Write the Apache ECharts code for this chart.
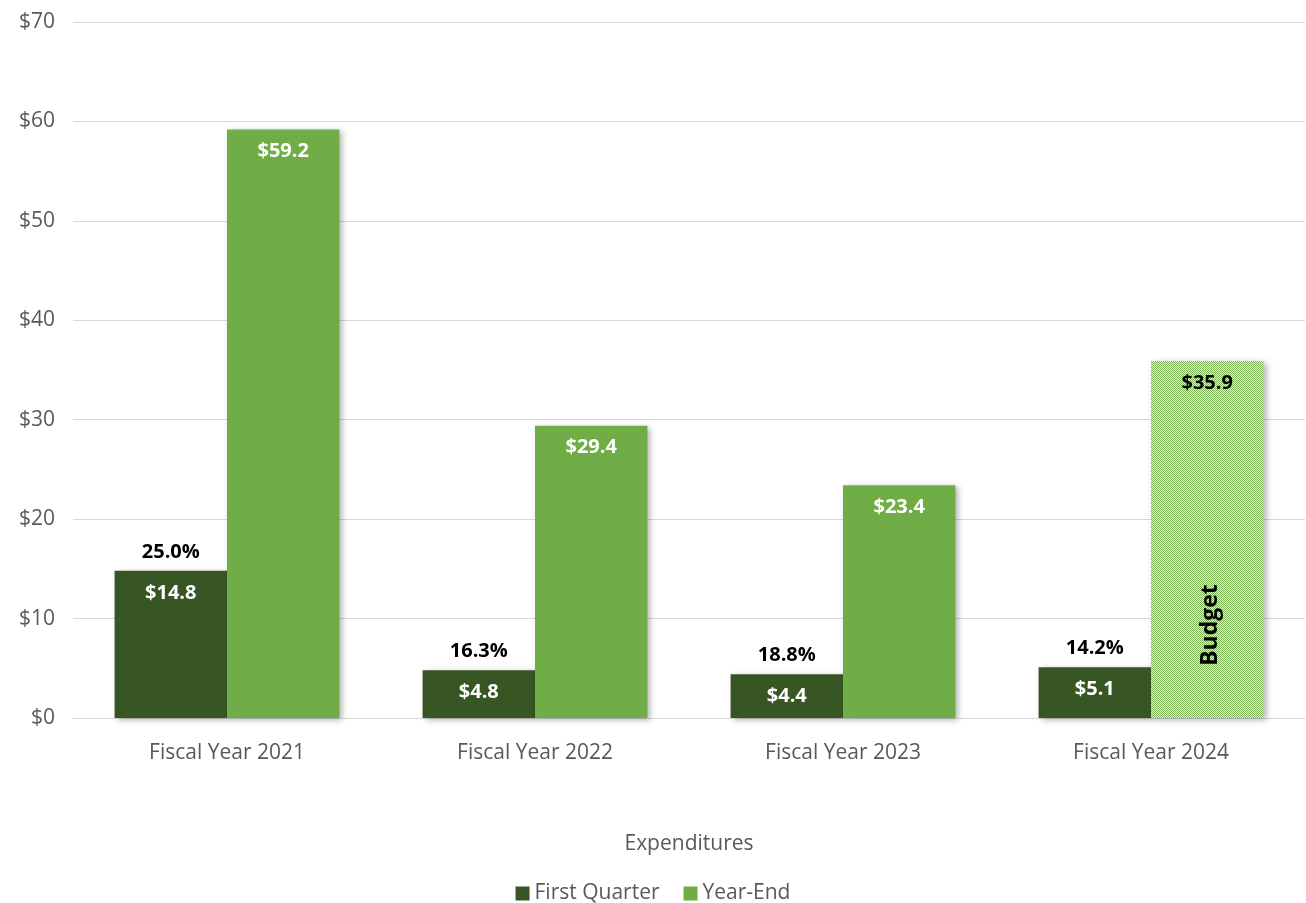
<!DOCTYPE html>
<html>
<head>
<meta charset="utf-8">
<script src="https://cdn.jsdelivr.net/npm/echarts@6/dist/echarts.min.js"></script>
<style>
  html, body { margin: 0; padding: 0; background: #fff; }
  #chart { width: 1306px; height: 903px; }
</style>
</head>
<body>
<div id="chart"></div>
<script>
var categories = ['Fiscal Year 2021', 'Fiscal Year 2022', 'Fiscal Year 2023', 'Fiscal Year 2024']
var firstQuarter = [14.8, 4.8, 4.4, 5.1]
var yearEnd = [59.2, 29.4, 23.4, 35.9]
var percentSpent = ['25.0%', '16.3%', '18.8%', '14.2%']
var budgetIndex = 3
var yTicks = [0, 10, 20, 30, 40, 50, 60, 70]

var FONT = '"Open Sans", "Noto Sans", sans-serif'
var DARK = '#375623'
var LIGHT = '#70ad47'

// dotted fill for the budget bar
function makePattern() {
  var c = document.createElement('canvas')
  c.width = 2
  c.height = 2
  var ctx = c.getContext('2d')
  ctx.fillStyle = '#e4f0dc'
  ctx.fillRect(0, 0, 2, 2)
  ctx.fillStyle = '#7db556'
  ctx.fillRect(0, 0, 1, 1)
  ctx.fillRect(1, 1, 1, 1)
  return c
}

var shadow = {
  shadowColor: 'rgba(0,0,0,0.3)',
  shadowBlur: 6,
  shadowOffsetX: 3,
  shadowOffsetY: 2
}

var yearEndData = yearEnd.map(function (v, i) {
  if (i !== budgetIndex) return v
  return {
    value: v,
    itemStyle: { color: { image: makePattern(), repeat: 'repeat' } },
    label: { color: '#000' }
  }
})

var pctMarks = firstQuarter.map(function (v, i) {
  return {
    coord: [categories[i], v],
    label: { formatter: percentSpent[i] }
  }
})

var chart = echarts.init(document.getElementById('chart'))
chart.setOption({
  backgroundColor: '#fff',
  animation: false,
  textStyle: { fontFamily: FONT },
  grid: { left: 73, right: 1, top: 22, bottom: 185 },
  legend: {
    top: 878,
    left: 'center',
    itemWidth: 14,
    itemHeight: 14,
    itemGap: 24,
    icon: 'rect',
    textStyle: { fontFamily: FONT, fontSize: 21, color: '#595959' },
    data: ['First Quarter', 'Year-End']
  },
  xAxis: {
    type: 'category',
    data: categories,
    name: 'Expenditures',
    nameLocation: 'middle',
    nameGap: 116,
    nameTextStyle: { fontFamily: FONT, fontSize: 21, color: '#595959' },
    axisLine: { lineStyle: { color: '#d9d9d9', width: 1 } },
    axisTick: { show: false },
    axisLabel: { fontFamily: FONT, fontSize: 21, color: '#595959', margin: 25 }
  },
  yAxis: {
    type: 'value',
    min: yTicks[0],
    max: yTicks[yTicks.length - 1],
    interval: 10,
    axisLine: { show: false },
    axisTick: { show: false },
    splitLine: { lineStyle: { color: '#d9d9d9', width: 1 } },
    axisLabel: {
      fontFamily: FONT, fontSize: 21, color: '#595959', margin: 18,
      formatter: function (v) { return '$' + v }
    }
  },
  series: [
    {
      name: 'First Quarter',
      type: 'bar',
      barGap: '0%',
      barCategoryGap: '27%',
      itemStyle: Object.assign({ color: DARK }, shadow),
      label: {
        show: true,
        position: 'insideTop',
        distance: 12,
        color: '#fff',
        fontFamily: FONT,
        fontSize: 20,
        fontWeight: 'bold',
        formatter: function (p) { return '$' + p.value.toFixed(1) }
      },
      data: firstQuarter,
      markPoint: {
        symbol: 'rect',
        symbolSize: 0,
        itemStyle: { color: 'transparent' },
        label: {
          show: true,
          position: 'top',
          distance: 9,
          color: '#000',
          fontFamily: FONT,
          fontSize: 20,
          fontWeight: 'bold'
        },
        data: pctMarks
      }
    },
    {
      name: 'Year-End',
      type: 'bar',
      barGap: '0%',
      barCategoryGap: '27%',
      itemStyle: Object.assign({ color: LIGHT }, shadow),
      label: {
        show: true,
        position: 'insideTop',
        distance: 12,
        color: '#fff',
        fontFamily: FONT,
        fontSize: 20,
        fontWeight: 'bold',
        formatter: function (p) { return '$' + p.value.toFixed(1) }
      },
      data: yearEndData,
      markPoint: {
        symbol: 'rect',
        symbolSize: 0,
        itemStyle: { color: 'transparent' },
        label: {
          show: true,
          position: 'inside',
          rotate: 90,
          offset: [93, 3],
          color: '#000',
          fontFamily: FONT,
          fontSize: 23,
          fontWeight: 'bold',
          formatter: 'Budget'
        },
        data: [{ coord: [categories[budgetIndex], 0] }]
      }
    }
  ]
})
</script>
</body>
</html>
